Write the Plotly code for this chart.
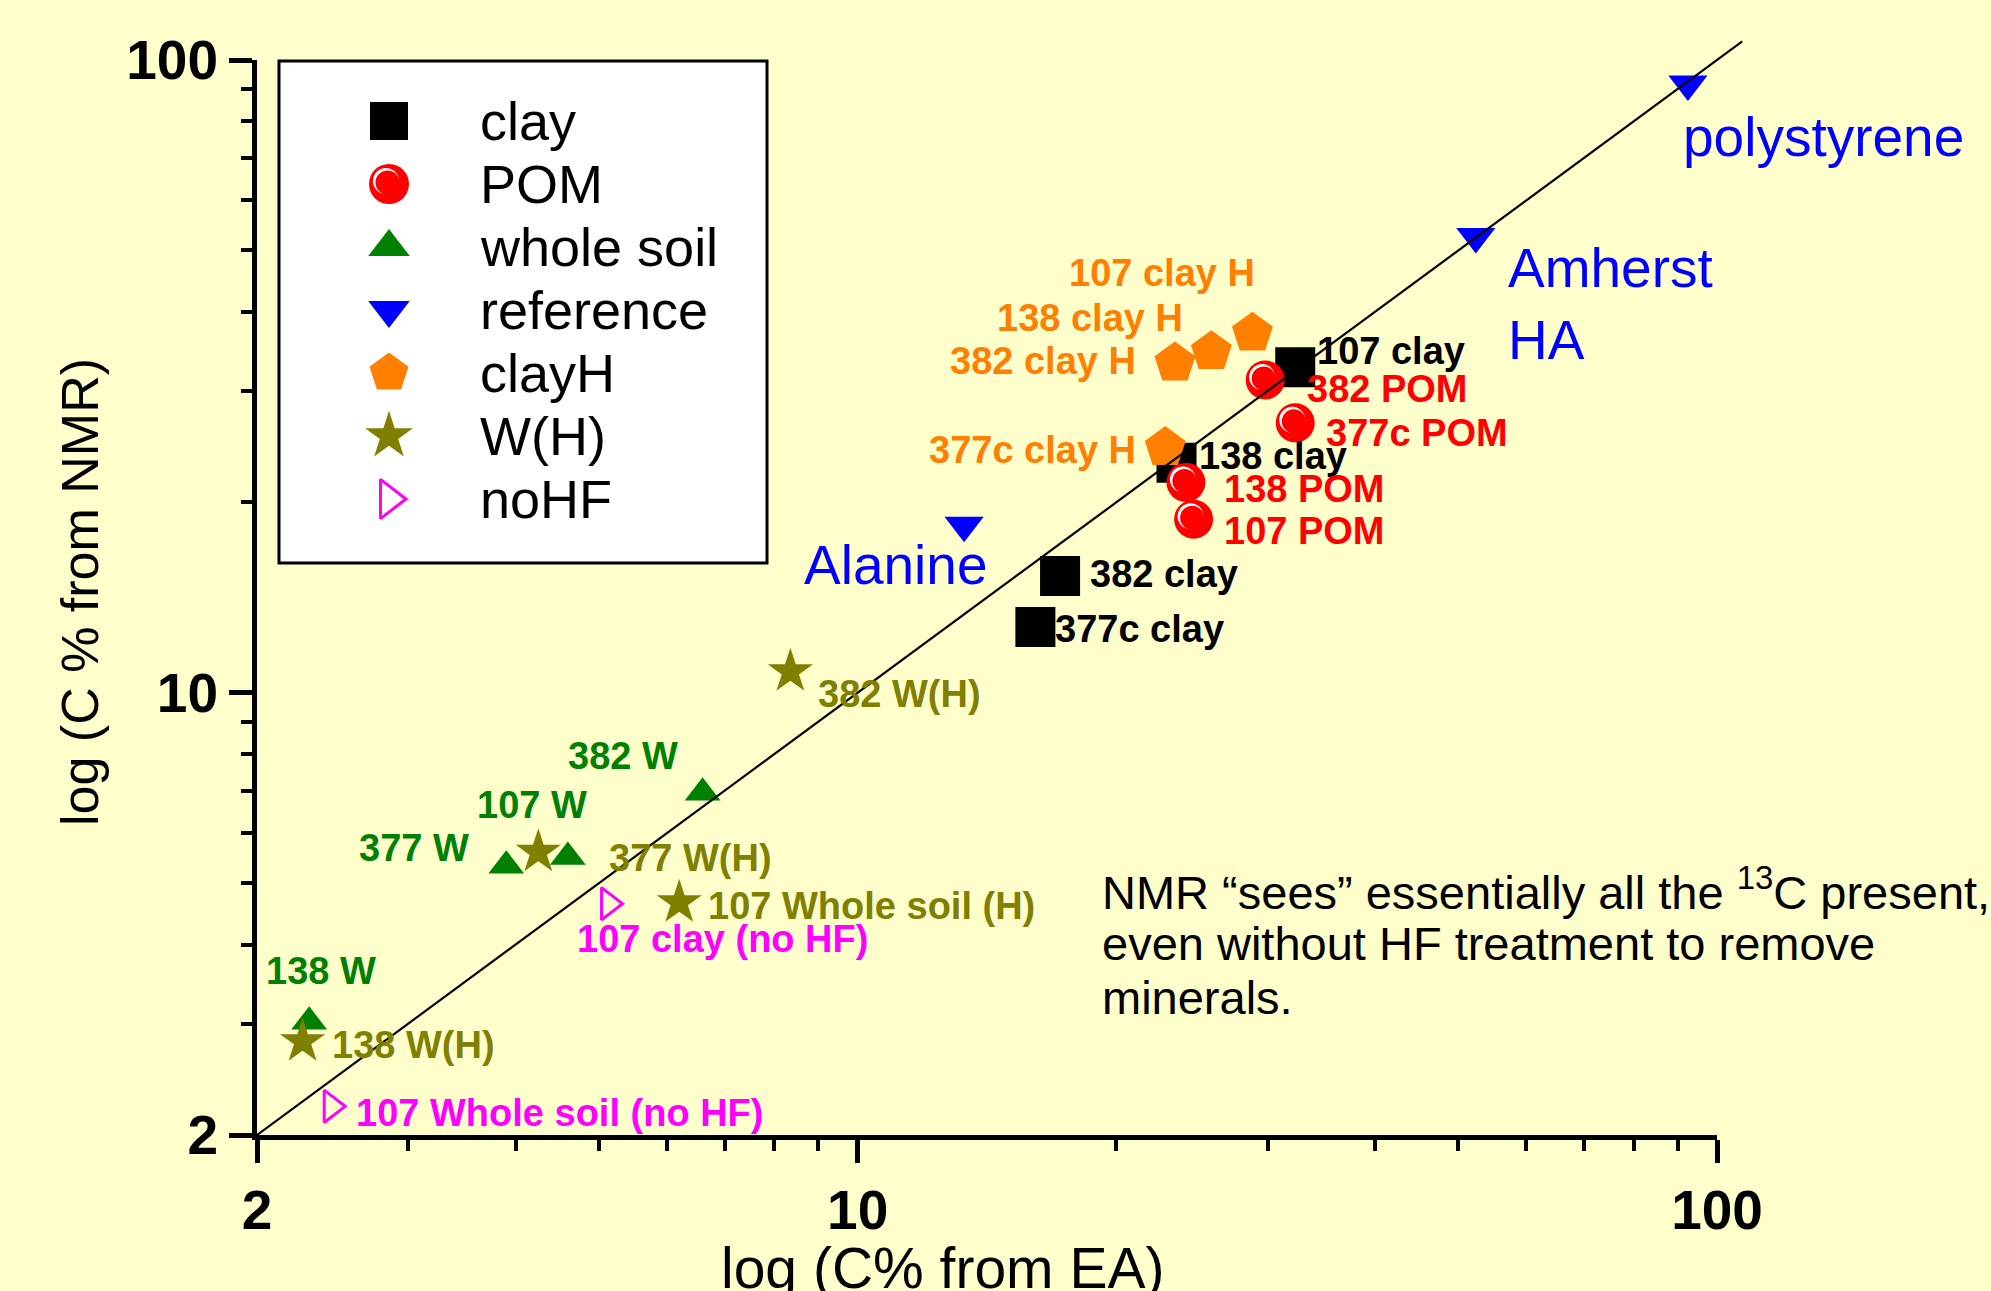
import numpy as np
import plotly.graph_objects as go

# ---------------- data ----------------
series_names = ["clay", "POM", "whole soil", "reference", "clayH", "W(H)", "noHF"]

clay_labels = ["107 clay", "138 clay", "382 clay", "377c clay"]
clay_x = [32.3, 23.5, 17.2, 16.1]
clay_y = [32.7, 23.1, 15.3, 12.7]

pom_labels = ["382 POM", "377c POM", "138 POM", "107 POM"]
pom_x = [29.8, 32.3, 24.1, 24.6]
pom_y = [31.2, 26.7, 21.5, 18.8]

soil_labels = ["382 W", "107 W", "377 W", "138 W"]
soil_x = [6.6, 4.6, 3.9, 2.3]
soil_y = [6.95, 5.5, 5.33, 3.02]

ref_labels = ["polystyrene", "Amherst<br>HA", "Alanine"]
ref_x = [92.5, 52.4, 13.3]
ref_y = [91.6, 52.6, 18.4]

clayh_labels = ["107 clay H", "138 clay H", "382 clay H", "377c clay H"]
clayh_x = [28.8, 25.8, 23.4, 22.8]
clayh_y = [37.0, 34.6, 33.2, 24.4]

wh_labels = ["382 W(H)", "377 W(H)", "107 Whole soil (H)", "138 W(H)"]
wh_x = [8.35, 4.25, 6.2, 2.26]
wh_y = [10.8, 5.6, 4.66, 2.81]

nohf_labels = ["107 clay (no HF)", "107 Whole soil (no HF)"]
nohf_x = [5.13, 2.44]
nohf_y = [4.64, 2.22]

line_x = [2, 107]
line_y = [2, 107]

x_ticks = [2, 10, 100]
y_ticks = [2, 10, 100]
minor_ticks = [3, 4, 5, 6, 7, 8, 9, 20, 30, 40, 50, 60, 70, 80, 90]
axis_min, axis_max = 2, 100

x_title = "log (C% from EA)"
y_title = "log (C % from NMR)"
note_lines = ["NMR \u201csees\u201d essentially all the <sup>13</sup>C present,",
              "even without HF treatment to remove",
              "minerals."]

# ---------------- layout geometry / styles ----------------
FIG_W, FIG_H = 1991, 1291
ML, MR, MT, MB = 257, 231, 30, 156
W_IN = FIG_W - ML - MR
H_IN = FIG_H - MT - MB
B_PX = FIG_H - MB
MAIN_RIGHT_PX, MAIN_TOP_PX = 1717, 60
W_MAIN = MAIN_RIGHT_PX - ML
H_MAIN = B_PX - MAIN_TOP_PX
PX_PER_DEC_X = W_MAIN / np.log10(axis_max / axis_min)
PX_PER_DEC_Y = H_MAIN / np.log10(axis_max / axis_min)


def px_to_paper_x(p):
    return (p - ML) / W_IN


def px_to_paper_y(p):
    return (B_PX - p) / H_IN


FONT = "Liberation Sans, Arial, sans-serif"
BG = "#FFFFCC"
LABEL_SIZE = 38
REF_SIZE = 55

styles = {
    "clay": dict(symbol="square", color="black", size=40),
    "POM": dict(symbol="circle", color="#FF0000", size=39),
    "whole soil": dict(symbol="triangle-up", color="#008000", size=31),
    "reference": dict(symbol="triangle-down", color="#0000FF", size=34),
    "clayH": dict(symbol="pentagon", color="#FF8000", size=43),
    "W(H)": dict(symbol="star", color="#808000", size=34),
    "noHF": dict(symbol="triangle-right-open", color="#FF00FF", size=28),
}
legend_sizes = {"clay": 38, "POM": 40, "whole soil": 36, "reference": 36,
                "clayH": 41, "W(H)": 36, "noHF": 34}

# glossy highlight of the POM spheres: (size, dx px, dy px down, colour)
gloss_layers = [(26, -3.0, -3.0, "white"), (24, -1.5, -1.5, "#FF0000")]

# label offsets in pixels relative to the marker (dx, dy up, anchor)
label_pos = {
    "107 clay": (20, 16, "left"), "138 clay": (20, 7, "left"),
    "382 clay": (28, 1.5, "left"), "377c clay": (18, -2, "left"),
    "382 POM": (40, -9, "left"), "377c POM": (29, -10, "left"),
    "138 POM": (36, -7, "left"), "107 POM": (28, -12, "left"),
    "107 clay H": (5, 60, "right"), "138 clay H": (-26, 34, "right"),
    "382 clay H": (-37, 2, "right"), "377c clay H": (-27, -2, "right"),
    "Alanine": (25, -40, "right"), "Amherst<br>HA": (30, -67.5, "left"),
    "polystyrene": (-7, -53, "left"),
    "382 W": (-22.5, 37, "right"), "107 W": (-36, 52, "center"),
    "377 W": (-35, 17.6, "right"), "138 W": (12, 51, "center"),
    "382 W(H)": (26, -22, "left"), "377 W(H)": (69, -5.5, "left"),
    "107 Whole soil (H)": (27, -3.4, "left"), "138 W(H)": (27, -3.4, "left"),
    "107 clay (no HF)": (-34, -35.5, "left"), "107 Whole soil (no HF)": (23, -7, "left"),
}

groups = [
    ("clay", clay_x, clay_y, clay_labels),
    ("POM", pom_x, pom_y, pom_labels),
    ("whole soil", soil_x, soil_y, soil_labels),
    ("reference", ref_x, ref_y, ref_labels),
    ("clayH", clayh_x, clayh_y, clayh_labels),
    ("W(H)", wh_x, wh_y, wh_labels),
    ("noHF", nohf_x, nohf_y, nohf_labels),
]

fig = go.Figure()
annotations = []


def marker_of(name, size):
    st = styles[name]
    open_sym = st["symbol"].endswith("open")
    return dict(symbol=st["symbol"], size=size, color=st["color"],
                line=dict(width=3 if open_sym else 0, color=st["color"]))


for name, xs, ys, labs in groups:
    st = styles[name]
    fig.add_trace(go.Scatter(
        x=xs, y=ys, mode="markers", name=name, showlegend=False,
        xaxis="x", yaxis="y", cliponaxis=False, hoverinfo="skip",
        marker=marker_of(name, st["size"]),
    ))
    if name == "POM":
        for gsize, gdx, gdy, gcol in gloss_layers:
            fig.add_trace(go.Scatter(
                x=[v * 10 ** (gdx / PX_PER_DEC_X) for v in xs],
                y=[v * 10 ** (-gdy / PX_PER_DEC_Y) for v in ys],
                mode="markers", showlegend=False, xaxis="x", yaxis="y",
                cliponaxis=False, hoverinfo="skip",
                marker=dict(symbol="circle", size=gsize, color=gcol, line=dict(width=0)),
            ))
    for xv, yv, lab in zip(xs, ys, labs):
        dx, dy, anc = label_pos[lab]
        is_ref = name == "reference"
        annotations.append(dict(
            x=np.log10(xv), y=np.log10(yv), xref="x", yref="y",
            text=lab, showarrow=False, xanchor=anc, yanchor="middle",
            align="left", xshift=dx, yshift=dy,
            font=dict(family=FONT, size=REF_SIZE if is_ref else LABEL_SIZE,
                      color=st["color"],
                      weight="normal" if is_ref else "bold"),
        ))

# diagonal y = x line on an invisible, slightly larger overlay subplot
x2_top = np.log10(axis_min) + np.log10(axis_max / axis_min) * W_IN / W_MAIN
y2_top = np.log10(axis_min) + np.log10(axis_max / axis_min) * H_IN / H_MAIN
fig.add_trace(go.Scatter(
    x=line_x, y=line_y, mode="lines", xaxis="x2", yaxis="y2",
    showlegend=False, hoverinfo="skip", line=dict(color="black", width=2.2),
))

# manual legend (rows on an auxiliary subplot)
LEG_MX, LEG_TX, LEG_ROW0, LEG_STEP = 389, 478, 121, 63
x3_lo = -(LEG_MX - ML) / (LEG_TX - LEG_MX)
x3_hi = x3_lo + W_IN / (LEG_TX - LEG_MX)
y3_top = -(LEG_ROW0 - MT) / LEG_STEP
y3_bot = y3_top + H_IN / LEG_STEP
for i, name in enumerate(series_names):
    fig.add_trace(go.Scatter(
        x=[0], y=[i], mode="markers", name=name, showlegend=False,
        xaxis="x3", yaxis="y3", cliponaxis=False, hoverinfo="skip",
        marker=marker_of(name, legend_sizes[name]),
    ))
    if name == "POM":
        for gsize, gdx, gdy, gcol in gloss_layers:
            fig.add_trace(go.Scatter(
                x=[gdx / (LEG_TX - LEG_MX)], y=[i + gdy / LEG_STEP],
                mode="markers", showlegend=False, xaxis="x3", yaxis="y3",
                cliponaxis=False, hoverinfo="skip",
                marker=dict(symbol="circle", size=gsize, color=gcol, line=dict(width=0)),
            ))
    annotations.append(dict(
        x=1, y=i, xref="x3", yref="y3", text=name, showarrow=False,
        xanchor="left", yanchor="middle",
        font=dict(family=FONT, size=54, color="black"),
    ))

# axis titles and note
annotations.append(dict(
    x=px_to_paper_x(80), y=px_to_paper_y(592), xref="paper", yref="paper",
    text=y_title, textangle=-90, showarrow=False, xanchor="center", yanchor="middle",
    font=dict(family=FONT, size=52, color="black")))
annotations.append(dict(
    x=px_to_paper_x(942), y=px_to_paper_y(1268), xref="paper", yref="paper",
    text=x_title, showarrow=False, xanchor="center", yanchor="middle",
    font=dict(family=FONT, size=57, color="black")))
NOTE_X, NOTE_Y0, NOTE_STEP = 1100, 888.5, 54.7
for k, line in enumerate(note_lines):
    annotations.append(dict(
        x=px_to_paper_x(NOTE_X), y=px_to_paper_y(NOTE_Y0 + k * NOTE_STEP),
        xref="paper", yref="paper", text=line, showarrow=False,
        xanchor="left", yanchor="middle", align="left",
        font=dict(family=FONT, size=47, color="black")))

axis_common = dict(
    type="log", showgrid=False, zeroline=False,
    showline=True, linecolor="black", linewidth=5,
    ticks="outside", ticklen=23, tickwidth=5, tickcolor="black",
    tickfont=dict(family=FONT, size=55, color="black", weight="bold"),
    minor=dict(tickvals=minor_ticks, ticks="outside", ticklen=11, tickwidth=4,
               tickcolor="black", showgrid=False),
    fixedrange=True,
)

fig.update_layout(
    width=FIG_W, height=FIG_H,
    margin=dict(l=ML, r=MR, t=MT, b=MB, autoexpand=False),
    paper_bgcolor=BG, plot_bgcolor="rgba(0,0,0,0)",
    showlegend=False,
    xaxis=dict(axis_common, range=[np.log10(axis_min), np.log10(axis_max)],
               domain=[0, W_MAIN / W_IN], anchor="y",
               tickvals=x_ticks, ticktext=[str(v) for v in x_ticks]),
    yaxis=dict(axis_common, range=[np.log10(axis_min), np.log10(axis_max)],
               domain=[0, H_MAIN / H_IN], anchor="x",
               tickvals=y_ticks, ticktext=[str(v) for v in y_ticks]),
    xaxis2=dict(type="log", range=[np.log10(axis_min), x2_top], domain=[0, 1],
                anchor="y2", visible=False, fixedrange=True),
    yaxis2=dict(type="log", range=[np.log10(axis_min), y2_top], domain=[0, 1],
                anchor="x2", visible=False, fixedrange=True),
    xaxis3=dict(range=[x3_lo, x3_hi], domain=[0, 1], anchor="y3",
                visible=False, fixedrange=True),
    yaxis3=dict(range=[y3_bot, y3_top], domain=[0, 1], anchor="x3",
                visible=False, fixedrange=True),
    shapes=[dict(type="rect", xref="paper", yref="paper",
                 x0=px_to_paper_x(279), x1=px_to_paper_x(767),
                 y0=px_to_paper_y(563), y1=px_to_paper_y(61),
                 fillcolor="white", line=dict(color="black", width=3), layer="below")],
    annotations=annotations,
)

fig.write_html("out.html", config={"displayModeBar": False},
               post_script="document.body.style.margin='0';document.body.style.overflow='hidden';")
